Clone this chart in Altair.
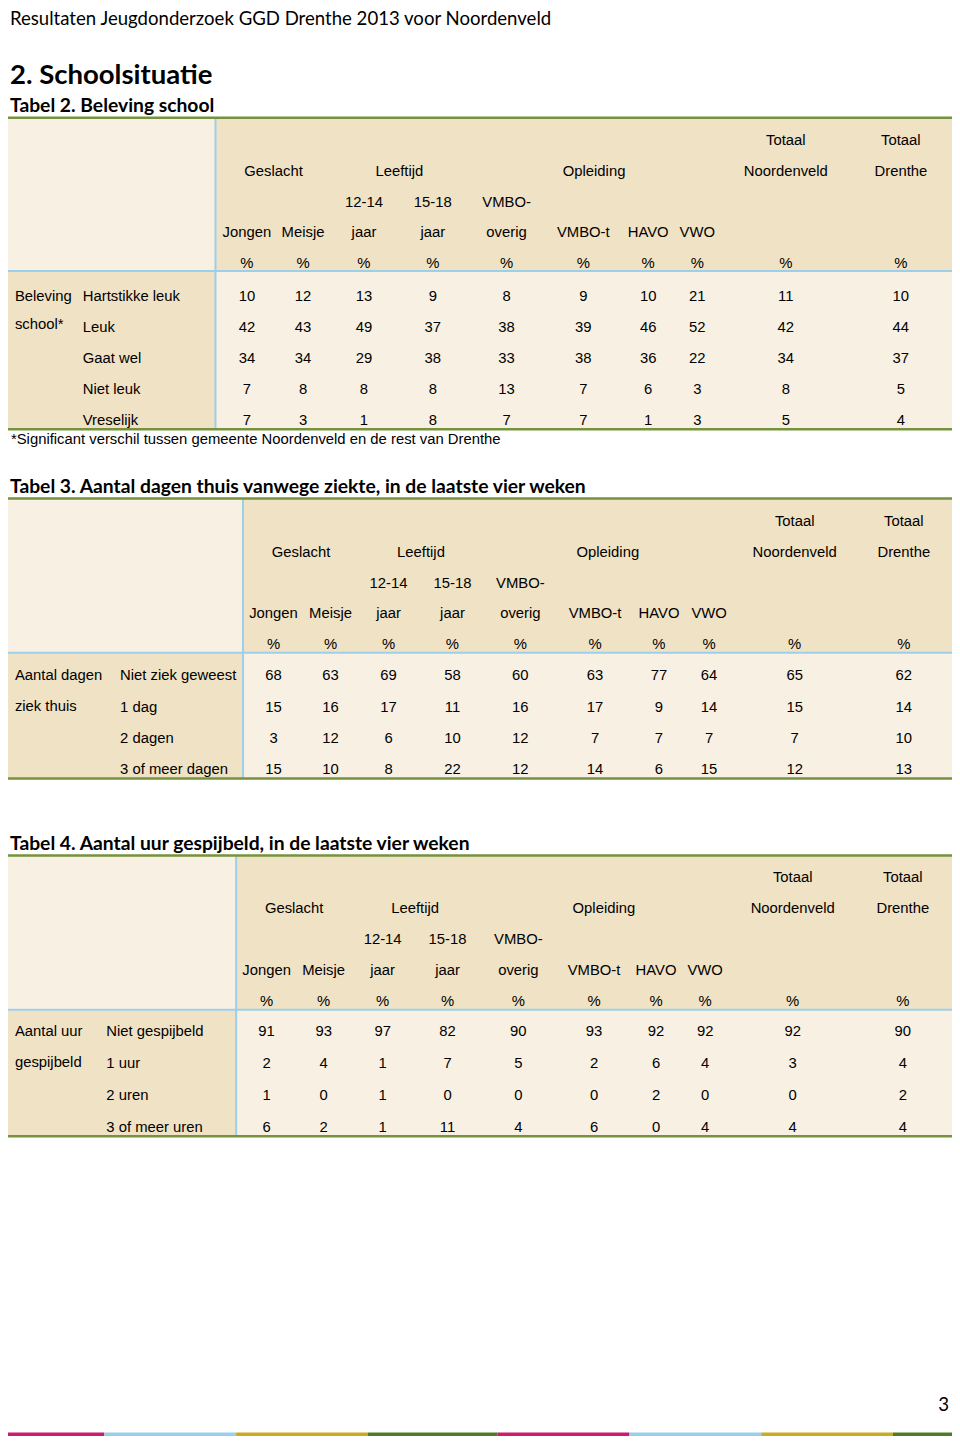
import altair as alt
import pandas as pd

# ---------------- data (text and values read from the page) ----------------
page_header = "Resultaten Jeugdonderzoek GGD Drenthe 2013 voor Noordenveld"
section_title = "2. Schoolsituatie"
table_titles = [
    "Tabel 2. Beleving school",
    "Tabel 3. Aantal dagen thuis vanwege ziekte, in de laatste vier weken",
    "Tabel 4. Aantal uur gespijbeld, in de laatste vier weken",
]
group_labels = ["Geslacht", "Leeftijd", "Opleiding"]
total_top = ["Totaal", "Totaal"]
total_bottom = ["Noordenveld", "Drenthe"]
col_top = ["", "", "12-14", "15-18", "VMBO-", "", "", "", "", ""]
col_bottom = ["Jongen", "Meisje", "jaar", "jaar", "overig", "VMBO-t", "HAVO", "VWO", "", ""]
unit = "%"

t2_topic = ["Beleving", "school*"]
t2_items = ["Hartstikke leuk", "Leuk", "Gaat wel", "Niet leuk", "Vreselijk"]
t2_values = [
    [10, 12, 13, 9, 8, 9, 10, 21, 11, 10],
    [42, 43, 49, 37, 38, 39, 46, 52, 42, 44],
    [34, 34, 29, 38, 33, 38, 36, 22, 34, 37],
    [7, 8, 8, 8, 13, 7, 6, 3, 8, 5],
    [7, 3, 1, 8, 7, 7, 1, 3, 5, 4],
]
footnote = "*Significant verschil tussen gemeente Noordenveld en de rest van Drenthe"

t3_topic = ["Aantal dagen", "ziek thuis"]
t3_items = ["Niet ziek geweest", "1 dag", "2 dagen", "3 of meer dagen"]
t3_values = [
    [68, 63, 69, 58, 60, 63, 77, 64, 65, 62],
    [15, 16, 17, 11, 16, 17, 9, 14, 15, 14],
    [3, 12, 6, 10, 12, 7, 7, 7, 7, 10],
    [15, 10, 8, 22, 12, 14, 6, 15, 12, 13],
]

t4_topic = ["Aantal uur", "gespijbeld"]
t4_items = ["Niet gespijbeld", "1 uur", "2 uren", "3 of meer uren"]
t4_values = [
    [91, 93, 97, 82, 90, 93, 92, 92, 92, 90],
    [2, 4, 1, 7, 5, 2, 6, 4, 3, 4],
    [1, 0, 1, 0, 0, 0, 2, 0, 0, 2],
    [6, 2, 1, 11, 4, 6, 0, 4, 4, 4],
]
page_number = "3"

# ---------------- layout & style (page coordinates of the reference) ----------------
PAGE_W, PAGE_H = 960, 1446
W, H = 944, 1430
K = W / PAGE_W

LIGHT = "#F8F1E3"
TAN = "#F0E2C5"
BLUE = "#9CCFEA"
GREEN = "#76923C"
FOOTER_COLORS = ["#CC1C6E", "#98D0EA", "#C9AB1F", "#4F7B2B"]
FOOTER_STOPS = [0, 98, 232, 366, 498, 632, 766, 900, 960]

layouts = [
    dict(title_base=105, top=111, split=211, head_bottom=266, bottom=426,
         head_base=[139, 170, 201, 232, 263], body_base=[296, 327.5, 359, 390.5, 422],
         topic_base=[296, 325], item_x=76,
         cols=[243, 300, 362, 432, 507, 585, 651, 701, 791, 908], groups=[270, 398, 596]),
    dict(title_base=490, top=496, split=239, head_bottom=652, bottom=779,
         head_base=[524, 555, 586.5, 617, 648], body_base=[680, 711.5, 743, 775],
         topic_base=[680, 711], item_x=114,
         cols=[270, 328, 387, 452, 521, 597, 662, 713, 800, 911], groups=[298, 420, 610]),
    dict(title_base=851, top=857, split=232, head_bottom=1013, bottom=1141,
         head_base=[884, 915, 946.5, 977.5, 1009], body_base=[1040, 1072, 1104, 1136.5],
         topic_base=[1040, 1071], item_x=100,
         cols=[263, 321, 381, 447, 519, 596, 659, 709, 798, 910], groups=[291, 414, 606]),
]
tables = [
    dict(topic=t2_topic, items=t2_items, values=t2_values),
    dict(topic=t3_topic, items=t3_items, values=t3_values),
    dict(topic=t4_topic, items=t4_items, values=t4_values),
]

BODY_FS = 15.1 * K

rects, rules = [], []
txt_left, txt_center = [], []
cal_reg, cal_bold = [], []

cal_reg.append(dict(x=2, y=17.5, t=page_header, fs=18.9 * K))
cal_bold.append(dict(x=2, y=77, t=section_title, fs=28 * K))

for ti, (tb, lo) in enumerate(zip(tables, layouts)):
    cal_bold.append(dict(x=2, y=lo["title_base"], t=table_titles[ti], fs=19.6 * K))
    # backgrounds
    rects += [
        dict(x=0, x2=lo["split"], y=lo["top"], y2=lo["head_bottom"], fill=LIGHT),
        dict(x=lo["split"], x2=PAGE_W, y=lo["top"], y2=lo["head_bottom"], fill=TAN),
        dict(x=0, x2=lo["split"], y=lo["head_bottom"], y2=lo["bottom"], fill=TAN),
        dict(x=lo["split"], x2=PAGE_W, y=lo["head_bottom"], y2=lo["bottom"], fill=LIGHT),
    ]
    # lines
    rules += [
        dict(x=lo["split"], x2=lo["split"], y=lo["top"], y2=lo["bottom"], c=BLUE, w=2),
        dict(x=0, x2=PAGE_W, y=lo["head_bottom"], y2=lo["head_bottom"], c=BLUE, w=2),
        dict(x=0, x2=PAGE_W, y=lo["top"], y2=lo["top"], c=GREEN, w=2.5),
        dict(x=0, x2=PAGE_W, y=lo["bottom"], y2=lo["bottom"], c=GREEN, w=2.5),
    ]
    cols = lo["cols"]
    hb = lo["head_base"]
    # header
    for j, lab in enumerate(total_top):
        txt_center.append(dict(x=cols[8 + j], y=hb[0], t=lab))
    for j, lab in enumerate(group_labels):
        txt_center.append(dict(x=lo["groups"][j], y=hb[1], t=lab))
    for j, lab in enumerate(total_bottom):
        txt_center.append(dict(x=cols[8 + j], y=hb[1], t=lab))
    for j, lab in enumerate(col_top):
        if lab:
            txt_center.append(dict(x=cols[j], y=hb[2], t=lab))
    for j, lab in enumerate(col_bottom):
        if lab:
            txt_center.append(dict(x=cols[j], y=hb[3], t=lab))
    for j in range(len(cols)):
        txt_center.append(dict(x=cols[j], y=hb[4], t=unit))
    # body
    for r, lab in enumerate(tb["topic"]):
        txt_left.append(dict(x=7, y=lo["topic_base"][r], t=lab))
    for r, (item, vals) in enumerate(zip(tb["items"], tb["values"])):
        yb = lo["body_base"][r]
        txt_left.append(dict(x=lo["item_x"], y=yb, t=item))
        for j, v in enumerate(vals):
            txt_center.append(dict(x=cols[j], y=yb, t=str(v)))
    if ti == 0:
        txt_left.append(dict(x=3, y=441, t=footnote))

# footer stripe
for i in range(len(FOOTER_STOPS) - 1):
    rects.append(dict(x=FOOTER_STOPS[i], x2=FOOTER_STOPS[i + 1], y=1440.5, y2=1444,
                      fill=FOOTER_COLORS[i % len(FOOTER_COLORS)]))

xs = alt.Scale(domain=[0, PAGE_W], range=[0, W], nice=False, zero=False)
ys = alt.Scale(domain=[0, PAGE_H], range=[0, H], nice=False, zero=False)
X = lambda f="x": alt.X(f"{f}:Q", scale=xs, axis=None)
Y = lambda f="y": alt.Y(f"{f}:Q", scale=ys, axis=None)

rect_layer = alt.Chart(pd.DataFrame(rects)).mark_rect(strokeWidth=0).encode(
    x=X(), x2="x2:Q", y=Y(), y2="y2:Q", color=alt.Color("fill:N", scale=None)
)
rule_layer = alt.Chart(pd.DataFrame(rules)).mark_rule(strokeCap="butt").encode(
    x=X(), x2="x2:Q", y=Y(), y2="y2:Q",
    color=alt.Color("c:N", scale=None),
    strokeWidth=alt.StrokeWidth("w:Q", scale=None),
)


def text_layer(rows, font, weight, align, fixed_fs=None):
    df = pd.DataFrame(rows)
    if "fs" not in df:
        df["fs"] = fixed_fs
    return alt.Chart(df).mark_text(
        font=font, fontWeight=weight, align=align, baseline="alphabetic", color="#000000"
    ).encode(x=X(), y=Y(), text="t:N", size=alt.Size("fs:Q", scale=None))


layers = [
    rect_layer,
    rule_layer,
    text_layer(txt_left, "Liberation Sans", "normal", "left", BODY_FS),
    text_layer(txt_center, "Liberation Sans", "normal", "center", BODY_FS),
    text_layer(cal_reg, "Lato", "normal", "left"),
    text_layer(cal_bold, "Lato", "bold", "left"),
    text_layer([dict(x=957, y=1419, t=page_number, fs=19 * K)], "Lato", "normal", "right"),
]

chart = alt.layer(*layers).properties(
    width=W, height=H, padding=0, autosize=alt.AutoSizeParams(type="none")
).configure_view(stroke=None)

chart.save("out.html", embed_options={"renderer": "svg", "actions": False})
